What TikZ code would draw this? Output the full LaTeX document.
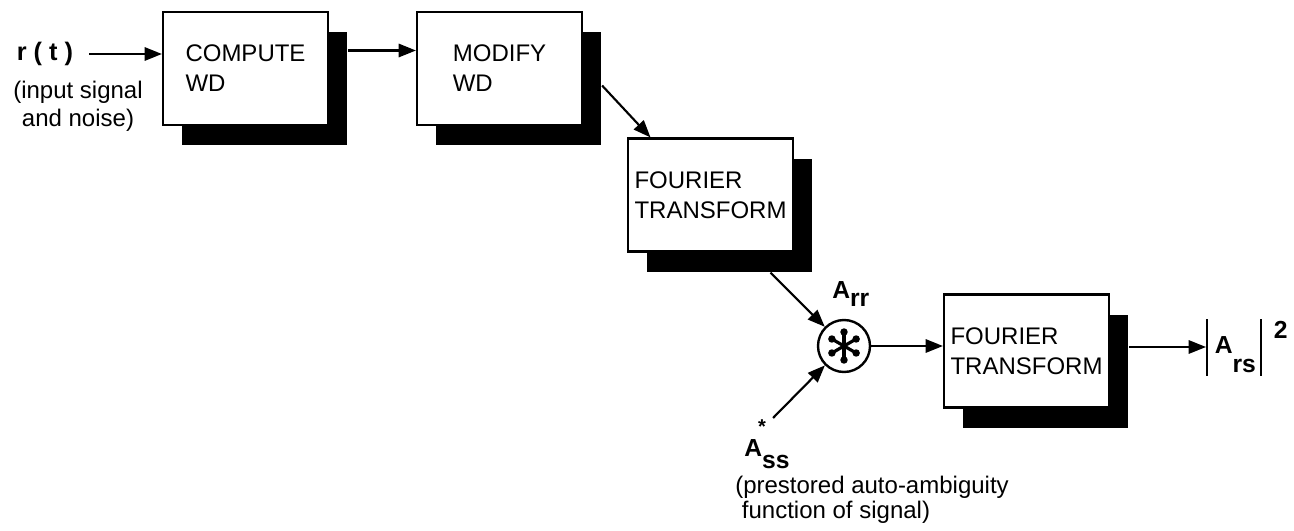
\documentclass[tikz,border=0pt]{standalone}
\usepackage{fontspec}
\setmainfont{Liberation Sans}
\usetikzlibrary{arrows.meta, shadows}

\tikzset{
  blk/.style={draw, line width=1.6pt, fill=white, minimum width=123.75pt, minimum height=84.75pt, align=left, inner sep=0pt, font=\fontsize{18}{22.5}\selectfont, drop shadow={shadow xshift=14.25pt, shadow yshift=-15pt, fill=black, opacity=1}},
  flow/.style={-{Triangle[length=13pt, width=10pt]}, line width=1.6pt},
  lbl/.style={inner sep=0pt, font=\bfseries\fontsize{18.5}{20}\selectfont},
  note/.style={inner sep=0pt, font=\fontsize{18}{21}\selectfont}
}

\begin{document}
\begin{tikzpicture}[x=0.75pt, y=-0.75pt]
    \useasboundingbox (0,0) rectangle (1294,531);
    \node[blk] (cwd) at (245.5,68.5) {COMPUTE\\WD};
    \node[blk] (mwd) at (499.5,68.5) {MODIFY\\WD};
    \node[blk] (ft1) at (710.5,195) {FOURIER\\TRANSFORM};
    \node[blk] (ft2) at (1026.5,351) {FOURIER\\TRANSFORM};
    \node[circle, draw, line width=1.8pt, minimum size=39pt, inner sep=0pt] (mult) at (844,346) {};
    \foreach \a in {30,90,...,330} {
        \draw[line width=2.4pt] (mult.center) -- ++(\a:10pt);
        \fill (mult.center) ++(\a:10.5pt) circle (2.8pt);
    }
    \node[lbl, font=\bfseries\fontsize{19}{20}\selectfont] (rt) at (45,54) {r ( t )};
    \node[note, align=center] (rtnote) at (78,106) {(input signal\\and noise)};
    \node[lbl, anchor=base west] (lArr) at (832,298) {A\raisebox{-6pt}{rr}};
    \node[lbl, anchor=base west] (lAss) at (744,456) {A\makebox[0pt]{\raisebox{17pt}{\bfseries\fontsize{15}{15}\selectfont *}}\raisebox{-9pt}{ss}};
    \node[note, align=left, anchor=north west, font=\fontsize{18}{18.75}\selectfont] (assnote) at (735,476) {(prestored auto-ambiguity\\\hspace*{5pt}function of signal)};
    \node[lbl, anchor=west] (lArs) at (1206,347) {\rule[-16.5pt]{1.4pt}{42.75pt}\hspace{5pt}A\raisebox{-14pt}{rs}\hspace{3pt}\rule[-16.5pt]{1.4pt}{42.75pt}\hspace{9pt}\raisebox{11pt}{2}};

    \draw[flow, shorten <=12pt] (rt.east) -- (rt.east -| cwd.west);
    \draw[flow] ([shift={(19,-18)}]cwd.east) -- ([shift={(0,-18)}]mwd.west);
    \draw[flow] ([shift={(19,17)}]mwd.east) -- ([xshift=-45pt]ft1.north);
    \draw[flow] ([shift={(60,20)}]ft1.south) -- (mult);
    \draw[flow] ([shift={(29,-38)}]lAss.base west) -- (mult);
    \draw[flow] (mult) -- (mult -| ft2.west);
    \draw[flow] ([shift={(19,-4)}]ft2.east) -- (lArs.west);
\end{tikzpicture}
\end{document}
